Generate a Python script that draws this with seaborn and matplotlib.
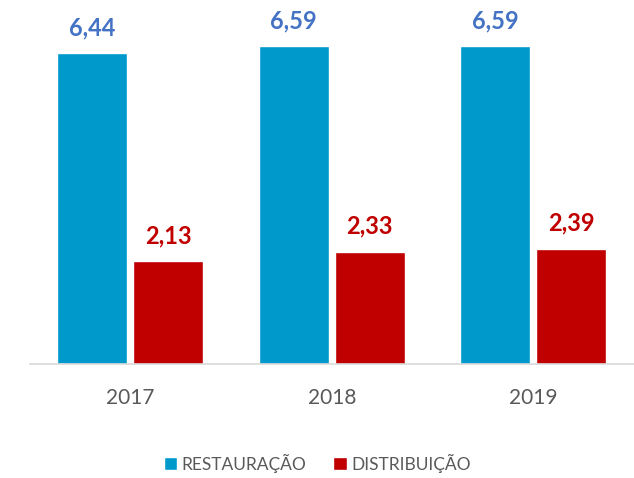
import pandas as pd
import matplotlib.pyplot as plt
import seaborn as sb

anos = ['2017', '2018', '2019']
restauracao = [6.44, 6.59, 6.59]
distribuicao = [2.13, 2.33, 2.39]
series = ['RESTAURAÇÃO', 'DISTRIBUIÇÃO']

datos = pd.DataFrame({
    'ano': anos * 2,
    'valor': restauracao + distribuicao,
    'serie': [series[0]] * 3 + [series[1]] * 3,
})

sb.set_style('white')
plt.rcParams['font.family'] = ['Lato', 'DejaVu Sans']

fig = plt.figure(figsize=(6.34, 4.78), dpi=100)
ax = fig.add_axes([29.5 / 634, 114 / 478, 604.5 / 634, 362 / 478])
colores = ['#0099CC', '#C00000']
sb.barplot(data=datos, x='ano', y='valor', hue='serie', palette=colores,
           width=0.752, gap=0.079, ax=ax, saturation=1)

cores_txt = ['#4472C4', '#C00000']
for cont, c in zip(ax.containers, cores_txt):
    etiquetas = [f"{b.get_height():.2f}".replace('.', ',') for b in cont]
    ax.bar_label(cont, labels=etiquetas, padding=10, color=c,
                 fontsize=17, fontweight='bold')

ax.set_ylim(0, 7.5)
ax.set_xlim(-0.5, 2.5)
ax.set_xlabel('')
ax.set_ylabel('')
ax.set_yticks([])
for s in ['top', 'right', 'left']:
    ax.spines[s].set_visible(False)
ax.spines['bottom'].set_color('#D9D9D9')
ax.spines['bottom'].set_linewidth(1.2)
ax.tick_params(axis='x', length=0, pad=17, labelsize=15, labelcolor='#595959')

handles, labels = ax.get_legend_handles_labels()
ax.legend(handles, labels, loc='center', bbox_to_anchor=(0.5, 15 / 478),
          bbox_transform=fig.transFigure, ncol=2, frameon=False,
          fontsize=12.5, labelcolor='#595959', handlelength=0.8,
          handleheight=0.8, handletextpad=0.25, columnspacing=1.5)

plt.savefig('out.png', dpi=100)
